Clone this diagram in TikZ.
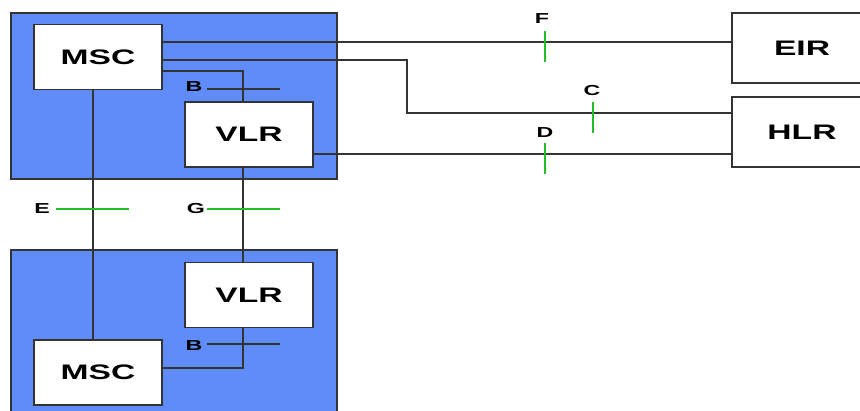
\documentclass[tikz,border=0pt]{standalone}
\usepackage{fontspec}
\setmainfont{Liberation Sans}
\usepackage{xcolor}
\usepackage{tikz}
\usetikzlibrary{positioning,calc}
\definecolor{netBlue}{HTML}{5F8CF8}
\definecolor{ifGreen}{HTML}{22C022}
\definecolor{lineGray}{HTML}{333333}
\newcommand{\wide}[1]{\scalebox{1.6}[1]{#1}}
\tikzset{
  netarea/.style={draw=lineGray, fill=netBlue, line width=1.5pt},
  elem/.style={draw=lineGray, fill=white, line width=1.5pt, inner sep=0pt,
        minimum width=128pt, minimum height=65pt, align=center,
        font=\fontsize{21}{21}\selectfont\bfseries},
  link/.style={draw=lineGray, line width=1.4pt},
  ifmark/.style={draw=ifGreen, line width=2pt},
  iflab/.style={font=\fontsize{14.5}{14.5}\selectfont\bfseries, inner sep=0pt}
}
\begin{document}
\begin{tikzpicture}[x=1pt, y=-1pt]
\clip (0,0) rectangle (860,410);
\fill[white] (0,0) rectangle (860,410);
\node[netarea, minimum width=326pt, minimum height=166pt, inner sep=0pt] (plmnA) at (174,96) {};
\node[netarea, minimum width=326pt, minimum height=190pt, inner sep=0pt] (plmnB) at (174,345) {};
\node[elem] (mscA) at (98,57)    {\wide{MSC}};
\node[elem] (vlrA) at (249,134.5) {\wide{VLR}};
\node[elem] (vlrB) at (249,295)  {\wide{VLR}};
\node[elem] (mscB) at (98,372.5) {\wide{MSC}};
\node[elem, minimum width=140pt, minimum height=70pt] (eir) at (802,48)  {\wide{EIR}};
\node[elem, minimum width=140pt, minimum height=70pt] (hlr) at (802,132) {\wide{HLR}};

\coordinate (cbend) at (407,113);
\draw[link] (mscA.east |- 0,42) -- (eir.west |- 0,42);
\draw[link] (mscA.east |- 0,60) -| (cbend) -- (hlr.west |- cbend);
\draw[link] (vlrA.east |- 0,154) -- (hlr.west |- 0,154);
\draw[link] (mscA.east |- 0,71) -| ([xshift=-6pt]vlrA.north);
\draw[link] (mscB.east |- 0,368) -| ([xshift=-6pt]vlrB.south);
\draw[link] ([xshift=-5pt]mscA.south) -- ([xshift=-5pt]mscB.north);
\draw[link] ([xshift=-6pt]vlrA.south) -- ([xshift=-6pt]vlrB.north);

\draw[ifmark] (545,31) -- (545,62);
\draw[ifmark] (593,102) -- (593,133);
\draw[ifmark] (545,143) -- (545,174);
\draw[ifmark] (56,209) -- (129,209);
\draw[ifmark] (207,209) -- (280,209);
\draw[link] (207,89) -- (280,89);
\draw[link] (207,344) -- (280,344);

\node[iflab] (labF) at (542,19)  {\wide{F}};
\node[iflab] (labC) at (592,91)  {\wide{C}};
\node[iflab] (labD) at (545,133) {\wide{D}};
\node[iflab] (labE) at (42,209)  {\wide{E}};
\node[iflab] (labG) at (196,209) {\wide{G}};
\node[iflab] (labBa) at (194,87)  {\wide{B}};
\node[iflab] (labBb) at (194,346) {\wide{B}};
\end{tikzpicture}
\end{document}
